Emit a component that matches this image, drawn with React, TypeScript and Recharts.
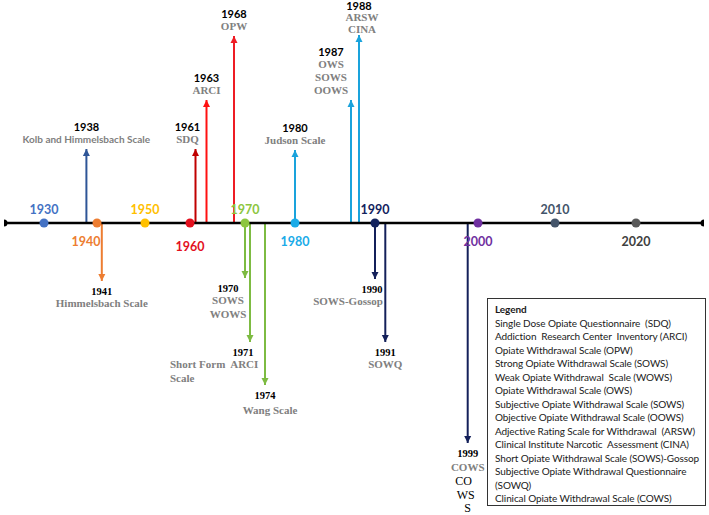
import React from 'react';
import { ComposedChart, XAxis, YAxis, Line, Scatter } from 'recharts';

// decade markers sitting on the timeline
const decadeYears = [1930, 1940, 1950, 1960, 1970, 1980, 1990, 2000, 2010, 2020];
const decadeColors = ['#4472C4', '#ED7D31', '#FFC000', '#E3101E', '#8DC63F', '#1AABE8', '#13235E', '#7030A0', '#44546A', '#595959'];

// instruments: year, arrow length above (+) or below (-) the line, label lines
const eventYears = [1938, 1941, 1961, 1963, 1968, 1970, 1971, 1974, 1980, 1987, 1988, 1990, 1991, 1999];
const eventLengths = [74, -58, 74, 123, 187, -55, -119, -162, 73, 123, 188, -56, -119, -220];
const eventNames = [
  ['Kolb and Himmelsbach Scale'],
  ['Himmelsbach Scale'],
  ['SDQ'],
  ['ARCI'],
  ['OPW'],
  ['SOWS', 'WOWS'],
  ['Short Form  ARCI', 'Scale'],
  ['Wang Scale'],
  ['Judson Scale'],
  ['OWS', 'SOWS', 'OOWS'],
  ['ARSW', 'CINA'],
  ['SOWS-Gossop'],
  ['SOWQ'],
  ['COWS'],
];
// stray overflow text under the COWS label in the original figure
const cowsOverflow = ['CO', 'WS', 'S'];
const eventColors = [
  '#2E5597', '#ED7D31', '#C00000', '#FF1010', '#EE1C24', '#7DBB42', '#7DBB42',
  '#7DBB42', '#1AA3DC', '#1AA3DC', '#1AA3DC', '#14205A', '#14205A', '#14205A',
];

const legendItems = [
  'Single Dose Opiate Questionnaire  (SDQ)',
  'Addiction  Research Center  Inventory (ARCI)',
  'Opiate Withdrawal Scale (OPW)',
  'Strong Opiate Withdrawal Scale (SOWS)',
  'Weak Opiate Withdrawal  Scale (WOWS)',
  'Opiate Withdrawal Scale (OWS)',
  'Subjective Opiate Withdrawal Scale (SOWS)',
  'Objective Opiate Withdrawal Scale (OOWS)',
  'Adjective Rating Scale for Withdrawal  (ARSW)',
  'Clinical Institute Narcotic  Assessment (CINA)',
  'Short Opiate Withdrawal Scale (SOWS)-Gossop',
  'Subjective Opiate Withdrawal Questionnaire\n(SOWQ)',
  'Clinical Opiate Withdrawal Scale (COWS)',
];

const AXIS_START = 1925;
const AXIS_END = 2030;

// the source timeline is hand drawn: decades are not evenly spaced,
// so the x scale is piecewise linear between the decade stops
const stopYears = [AXIS_START, ...decadeYears, AXIS_END];
const stopWeights = [0, 40, 93, 141, 186, 241, 291, 371, 474, 551, 632, 700];

function timelineScale(): any {
  let dom: number[] = [AXIS_START, AXIS_END];
  let rng: number[] = [0, 1];
  const total = stopWeights[stopWeights.length - 1];
  const frac = (v: number) => {
    if (v <= stopYears[0]) return 0;
    for (let i = 1; i < stopYears.length; i++) {
      if (v <= stopYears[i]) {
        const t = (v - stopYears[i - 1]) / (stopYears[i] - stopYears[i - 1]);
        return (stopWeights[i - 1] + t * (stopWeights[i] - stopWeights[i - 1])) / total;
      }
    }
    return 1;
  };
  const scale: any = (v: number) => rng[0] + frac(Number(v)) * (rng[1] - rng[0]);
  scale.domain = (d?: number[]) => {
    if (d === undefined) return dom;
    dom = d;
    return scale;
  };
  scale.range = (r?: number[]) => {
    if (r === undefined) return rng;
    rng = r;
    return scale;
  };
  scale.copy = () => timelineScale().domain(dom).range(rng);
  scale.ticks = () => decadeYears;
  scale.tickFormat = () => (v: number) => String(v);
  scale.clamp = () => scale;
  scale.nice = () => scale;
  return scale;
}

const SANS = 'Lato, "Open Sans", sans-serif';
const SERIF = '"Liberation Serif", "Times New Roman", serif';
const NAME_GRAY = '#808080';

// label nudges so the text sits clear of the neighbouring arrows
const decadeShift: Record<number, number> = { 1940: -11 };
const yearShift: Record<number, number> = { 1961: -8, 1970: -17, 1971: -7, 1987: -20, 1990: -3 };
const nameShift: Record<number, number> = { 1961: -8, 1970: -17, 1974: 5, 1987: -20, 1988: 3, 1990: -27 };

const decadeData = decadeYears.map((year, i) => ({ year, v: 0, i }));
const endData = [{ year: AXIS_START, v: 0 }, { year: AXIS_END, v: 0 }];

const DecadeDot = ({ cx, cy, payload }: any) => {
  const i = payload.i;
  const above = i % 2 === 0;
  const color = decadeColors[i];
  return (
    <g>
      <circle cx={cx} cy={cy} r={4.5} fill={color} />
      <text
        x={cx + (decadeShift[payload.year] || 0)}
        y={cy + (above ? -14 : i === 3 ? 23 : 18)}
        textAnchor="middle"
        dominantBaseline="central"
        fontFamily={SANS}
        fontWeight={700}
        fontSize={12.5}
        fill={i === 9 ? '#404040' : color}
      >
        {payload.year}
      </text>
    </g>
  );
};

const EndDot = ({ cx, cy }: any) => <circle cx={cx} cy={cy} r={3.5} fill="#000" />;

const EventHead = ({ cx, cy, idx }: any) => {
  const year = eventYears[idx];
  const up = eventLengths[idx] > 0;
  const color = eventColors[idx];
  const names = eventNames[idx];
  const head = up
    ? `M${cx},${cy} L${cx - 3.5},${cy + 7} L${cx + 3.5},${cy + 7} Z`
    : `M${cx},${cy} L${cx - 3.5},${cy - 7} L${cx + 3.5},${cy - 7} Z`;
  const yx = cx + (yearShift[year] || 0);
  const nx = cx + (nameShift[year] || 0);
  const leftAligned = year === 1971;
  const nameFont = year === 1938 ? SANS : SERIF;
  const nameSize = year === 1938 ? 10 : 11;

  let yearY: number;
  let nameYs: number[];
  if (up) {
    const gap = year === 1988 ? 6 : 10;
    const step = year === 1988 ? 12 : 13;
    nameYs = names.map((_, k) => cy - gap - (names.length - 1 - k) * step);
    yearY = cy - gap - names.length * step;
  } else {
    yearY = cy + 10;
    const extra = year === 1974 ? 3 : year === 1999 ? 2 : 0;
    nameYs = names.map((_, k) => cy + 22 + k * 14 + extra);
  }

  return (
    <g>
      <path d={head} fill={color} />
      <text
        x={yx}
        y={yearY}
        textAnchor="middle"
        dominantBaseline="central"
        fontFamily={up ? SANS : SERIF}
        fontWeight={700}
        fontSize={up ? 11 : 10.5}
        fill="#000"
      >
        {year}
      </text>
      {names.map((n, k) => (
        <text
          key={k}
          x={leftAligned ? cx - 80 : nx}
          y={nameYs[k]}
          textAnchor={leftAligned ? 'start' : 'middle'}
          dominantBaseline="central"
          fontFamily={nameFont}
          fontWeight={700}
          fontSize={nameSize}
          fill={NAME_GRAY}
          style={{ whiteSpace: 'pre' }}
        >
          {n}
        </text>
      ))}
      {year === 1999 &&
        cowsOverflow.map((t, k) => (
          <text
            key={t}
            x={cx - 4 + k * 2}
            y={cy + 38 + k * 13.5}
            textAnchor="middle"
            dominantBaseline="central"
            fontFamily={SERIF}
            fontSize={12}
            fill="#000"
          >
            {t}
          </text>
        ))}
    </g>
  );
};

const OpiateTimeline: React.FC = () => {
  return (
    <div style={{ position: 'absolute', left: 0, top: 0, width: 709, height: 515, background: '#fff' }}>
      <ComposedChart width={709} height={515} margin={{ top: 0, right: 5, bottom: 0, left: 4 }}>
        <XAxis
          dataKey="year"
          type="number"
          domain={[AXIS_START, AXIS_END]}
          scale={timelineScale()}
          allowDataOverflow
          hide
        />
        <YAxis dataKey="v" type="number" domain={[-292, 223]} allowDataOverflow hide />
        {eventYears.map((year, idx) => (
          <Line
            key={year}
            data={[{ year, v: 0 }, { year, v: eventLengths[idx] }]}
            dataKey="v"
            stroke={eventColors[idx]}
            strokeWidth={2}
            isAnimationActive={false}
            dot={(p: any) =>
              p.index === 1 ? <EventHead key={`h${year}`} cx={p.cx} cy={p.cy} idx={idx} /> : <g key={`b${year}`} />
            }
            activeDot={false}
          />
        ))}
        <Line
          data={endData}
          dataKey="v"
          stroke="#000"
          strokeWidth={2.5}
          dot={false}
          activeDot={false}
          isAnimationActive={false}
        />
        <Scatter data={endData} dataKey="v" shape={EndDot} isAnimationActive={false} />
        <Scatter data={decadeData} dataKey="v" shape={DecadeDot} isAnimationActive={false} />
      </ComposedChart>
      <div
        style={{
          position: 'absolute',
          left: 487,
          top: 298,
          width: 219,
          height: 208,
          boxSizing: 'border-box',
          border: '1px solid #333',
          padding: '4px 0 0 7px',
          fontFamily: SANS,
          fontSize: 10,
          letterSpacing: '-0.1px',
          lineHeight: '13.5px',
          color: '#1a1a1a',
        }}
      >
        <div style={{ fontWeight: 700 }}>Legend</div>
        {legendItems.map((item) => (
          <div key={item} style={{ whiteSpace: 'pre' }}>
            {item}
          </div>
        ))}
      </div>
    </div>
  );
};

export default function App() {
  return <OpiateTimeline />;
}
